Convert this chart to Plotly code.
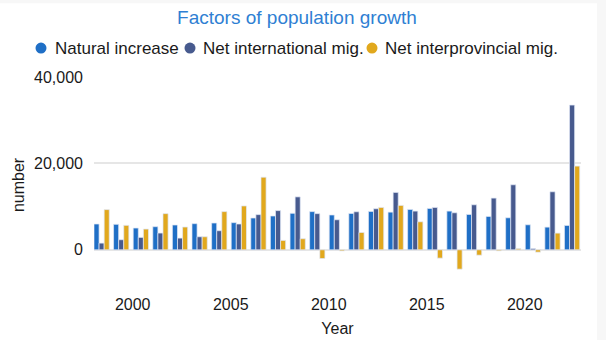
import plotly.graph_objects as go

years = list(range(1998, 2023))
natural_increase = [5970, 5900, 5040, 5350, 5740, 6050, 6200, 6280, 7360, 7830, 8450, 8840, 8060,
                     8410, 8880, 8720, 9340, 9570, 8960, 8180, 7720, 7410, 5790, 5250, 5640]
net_international = [1550, 2330, 2870, 3880, 2710, 3020, 4420, 5970, 8140, 9070, 12250, 8370, 6950,
                     8800, 9500, 13280, 8960, 9800, 8570, 10420, 11970, 15050, 300, 13430, 33500]
net_interprovincial = [9300, 5660, 4800, 8370, 5270, 3020, 8840, 10150, 16800, 2170, 2560, -2020, -250,
                       4010, 9800, 10270, 6480, -1930, -4480, -1240, -230, 300, -540, 3860, 19380]
series_names = ["Natural increase", "Net international mig.", "Net interprovincial mig."]
colors = ["#1f6fc6", "#475a8e", "#e1a81d"]
y_ticks = [0, 20000, 40000]

# bars positioned within each year (date axis)
x_dates = [f"{y}-06-01" for y in years]

FONT = "Liberation Sans, Arial, sans-serif"
TXT = "#1a1a1a"

# plot area in pixels (for placing the legend row in paper coordinates)
L, R, T, B = 94, 581, 77, 293.5
def px_x(px):
    return (px - L) / (R - L)
def px_y(py):
    return (B - py) / (B - T)

legend_marker_px = [41, 190, 372]
legend_text_px = [53, 201, 383]
legend_row_px = 48

fig = go.Figure()
for name, vals, col in zip(series_names, [natural_increase, net_international, net_interprovincial], colors):
    fig.add_trace(go.Bar(
        x=x_dates, y=vals, name=name, showlegend=False,
        marker=dict(color=col, line=dict(color="rgba(225,232,245,0.9)", width=0.8)),
    ))

shapes = [dict(type="rect", xref="paper", yref="paper",
               x0=-0.2, x1=px_x(597), y0=-0.3, y1=px_y(3),
               fillcolor="white", line=dict(width=0), layer="below")]
annotations = []
for name, col, mx, tx in zip(series_names, colors, legend_marker_px, legend_text_px):
    shapes.append(dict(type="circle", xref="paper", yref="paper",
                       xsizemode="pixel", ysizemode="pixel",
                       xanchor=px_x(mx), yanchor=px_y(legend_row_px),
                       x0=-5.5, x1=5.5, y0=-5.5, y1=5.5,
                       fillcolor=col, line=dict(width=0)))
    annotations.append(dict(text=name, xref="paper", yref="paper",
                            x=px_x(tx), y=px_y(legend_row_px), xanchor="left", yanchor="middle",
                            showarrow=False, font=dict(family=FONT, size=17, color=TXT)))

fig.update_layout(
    width=606, height=340,
    margin=dict(l=L, r=606 - R, t=T, b=340 - B, autoexpand=False),
    paper_bgcolor="#f7f7f7",
    plot_bgcolor="white",
    barmode="group", bargap=0.22, bargroupgap=0,
    font=dict(family=FONT, size=16, color=TXT),
    showlegend=False,
    title=dict(text="Factors of population growth", x=0.49, xref="container", xanchor="center",
               y=0.95, yref="container", yanchor="middle",
               font=dict(family=FONT, size=19, color="#2f7fd3")),
    shapes=shapes,
    annotations=annotations,
)
fig.update_xaxes(
    type="date", range=["1998-01-10", "2022-11-14"],
    tick0="2000-01-01", dtick="M60", tickformat="%Y",
    showgrid=False, showline=False, zeroline=False, ticks="",
    tickfont=dict(size=16, color=TXT),
    title=dict(text="Year", font=dict(size=16, color=TXT), standoff=10),
)
fig.update_yaxes(
    range=[-10000, 40000], tickvals=y_ticks, tickformat=",d",
    showgrid=True, gridcolor="#e6e6e6", gridwidth=2,
    zeroline=True, zerolinecolor="#e6e6e6", zerolinewidth=2,
    showline=False, ticks="", ticklabelstandoff=10,
    tickfont=dict(size=16, color=TXT),
    title=dict(text="number", font=dict(size=16, color=TXT), standoff=5),
)

fig.write_html("out.html")
